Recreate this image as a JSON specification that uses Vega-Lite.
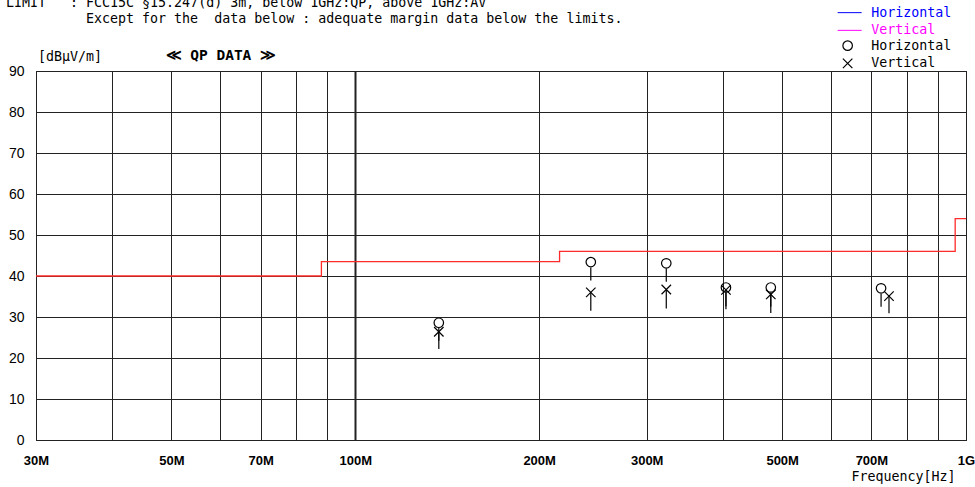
{
  "$schema": "https://vega.github.io/schema/vega-lite/v6.json",
  "autosize": {"type": "none"},
  "width": 930,
  "height": 369,
  "padding": {"left": 36, "top": 71, "right": 9, "bottom": 47},
  "background": "white",
  "title": {
    "text": [
      "LIMIT\u00a0\u00a0\u00a0:\u00a0FCC15C\u00a0§15.247(d)\u00a03m,\u00a0below\u00a01GHz:QP,\u00a0above\u00a01GHz:AV",
      "\u200b\u00a0\u00a0\u00a0\u00a0\u00a0\u00a0\u00a0\u00a0\u00a0\u00a0Except\u00a0for\u00a0the\u00a0\u00a0data\u00a0below\u00a0:\u00a0adequate\u00a0margin\u00a0data\u00a0below\u00a0the\u00a0limits."
    ],
    "subtitle": "\u200b\u00a0\u00a0\u00a0\u00a0[dBμV/m]",
    "anchor": "start",
    "frame": "group",
    "dx": -30,
    "offset": -57,
    "font": "DejaVu Sans Mono",
    "fontSize": 13.3,
    "fontWeight": "normal",
    "lineHeight": 16,
    "color": "black",
    "subtitleFont": "DejaVu Sans Mono",
    "subtitleFontSize": 13.3,
    "subtitleFontWeight": "normal",
    "subtitleColor": "black",
    "subtitlePadding": 24
  },
  "datasets": {
    "limit": [
      {"freq": 30, "limit": 40},
      {"freq": 88, "limit": 43.5},
      {"freq": 216, "limit": 46},
      {"freq": 960, "limit": 54},
      {"freq": 1000, "limit": 54}
    ],
    "pts": [
      {"freq": 137, "level": 28.6, "top": 27.3, "low": 24.2, "pol": "Horizontal"},
      {"freq": 137, "level": 26.4, "top": 26.4, "low": 22.2, "pol": "Vertical"},
      {"freq": 243, "level": 43.4, "top": 42.1, "low": 38.9, "pol": "Horizontal"},
      {"freq": 243, "level": 36.0, "top": 36.0, "low": 31.5, "pol": "Vertical"},
      {"freq": 323, "level": 43.1, "top": 41.8, "low": 38.6, "pol": "Horizontal"},
      {"freq": 323, "level": 36.7, "top": 36.7, "low": 32.1, "pol": "Vertical"},
      {"freq": 404.5, "level": 37.2, "top": 35.9, "low": 32.6, "pol": "Horizontal"},
      {"freq": 404.5, "level": 36.6, "top": 36.6, "low": 31.9, "pol": "Vertical"},
      {"freq": 479, "level": 37.2, "top": 35.9, "low": 32.5, "pol": "Horizontal"},
      {"freq": 479, "level": 35.5, "top": 35.5, "low": 31.0, "pol": "Vertical"},
      {"freq": 726, "level": 37.0, "top": 35.7, "low": 32.5, "pol": "Horizontal"},
      {"freq": 748, "level": 35.1, "top": 35.1, "low": 30.9, "pol": "Vertical"}
    ]
  },
  "layer": [
    {
      "data": {"name": "limit"},
      "mark": {"type": "line", "interpolate": "step-after", "color": "#ff2a2a", "strokeWidth": 1.3},
      "encoding": {
        "x": {
          "field": "freq", "type": "quantitative",
          "scale": {"type": "log", "domain": [30, 1000], "nice": false},
          "axis": {
            "values": [30, 40, 50, 60, 70, 80, 90, 100, 200, 300, 400, 500, 600, 700, 800, 900, 1000],
            "labelExpr": "datum.value == 1000 ? '1G' : (indexof([30,50,70,100,200,300,500,700], datum.value) >= 0 ? datum.value + 'M' : '')",
            "labelOverlap": false,
            "labelFlush": false,
            "labelBound": false,
            "labelFont": "Liberation Sans, Arial, sans-serif",
            "labelFontSize": 13,
            "labelFontWeight": "bold",
            "labelColor": "black",
            "labelBaseline": "top",
            "labelPadding": 14,
            "grid": true,
            "gridWidth": {"condition": {"test": "datum.value == 100", "value": 2}, "value": 1},
            "title": "Frequency[Hz]",
            "titleFont": "DejaVu Sans Mono",
            "titleFontSize": 13.3,
            "titleFontWeight": "normal",
            "titleColor": "black",
            "titleAlign": "right",
            "titleBaseline": "middle",
            "titleAnchor": null,
            "titleX": 919,
            "titleY": 36
          }
        },
        "y": {
          "field": "limit", "type": "quantitative",
          "scale": {"domain": [0, 90], "nice": false},
          "axis": {
            "values": [0, 10, 20, 30, 40, 50, 60, 70, 80, 90],
            "labelFont": "Liberation Sans, Arial, sans-serif",
            "labelFontSize": 14,
            "labelColor": "black",
            "labelPadding": 12,
            "labelFlush": false,
            "labelBound": false,
            "grid": true,
            "title": "≪\u00a0QP\u00a0DATA\u00a0≫",
            "titleFont": "DejaVu Sans Mono",
            "titleFontSize": 14.5,
            "titleFontWeight": "bold",
            "titleColor": "black",
            "titleAngle": 0,
            "titleAlign": "left",
            "titleBaseline": "middle",
            "titleX": 129,
            "titleY": -16
          }
        }
      }
    },
    {
      "data": {"name": "pts"},
      "transform": [{"filter": "false"}],
      "mark": {"type": "line", "strokeWidth": 1},
      "encoding": {
        "x": {"field": "freq", "type": "quantitative"},
        "y": {"field": "level", "type": "quantitative"},
        "color": {
          "field": "pol", "type": "nominal",
          "scale": {"domain": ["Horizontal", "Vertical"], "range": ["#0000ff", "#ff00ff"]},
          "legend": {
            "orient": "none",
            "legendX": 807,
            "legendY": -65,
            "title": null,
            "padding": 0,
            "symbolType": "M-2.4,0L2.4,0",
            "symbolSize": 100,
            "symbolStrokeWidth": 1,
            "labelFont": "DejaVu Sans Mono",
            "labelFontSize": 13.3,
            "labelColor": {"expr": "datum.value === 'Horizontal' ? '#0000ff' : '#ff00ff'"},
            "labelOffset": 15,
            "rowPadding": 3.7
          }
        }
      }
    },
    {
      "data": {"name": "pts"},
      "mark": {"type": "rule", "color": "black", "strokeWidth": 1.2},
      "encoding": {
        "x": {"field": "freq", "type": "quantitative"},
        "y": {"field": "top", "type": "quantitative"},
        "y2": {"field": "low"}
      }
    },
    {
      "data": {"name": "pts"},
      "mark": {"type": "point", "filled": false, "color": "black", "strokeWidth": 1.2, "size": 90, "opacity": 1},
      "encoding": {
        "x": {"field": "freq", "type": "quantitative"},
        "y": {"field": "level", "type": "quantitative"},
        "shape": {
          "field": "pol", "type": "nominal",
          "scale": {"range": ["circle", "M-1,-1L1,1M-1,1L1,-1"]},
          "legend": {
            "orient": "none",
            "legendX": 805,
            "legendY": -32,
            "title": null,
            "padding": 0,
            "symbolSize": 90,
            "symbolStrokeWidth": 1.2,
            "labelFont": "DejaVu Sans Mono",
            "labelFontSize": 13.3,
            "labelColor": "black",
            "labelOffset": 17,
            "rowPadding": 2.7
          }
        }
      }
    }
  ],
  "config": {
    "view": {"stroke": "black", "strokeWidth": 1},
    "axis": {"domain": false, "ticks": false, "tickSize": 0, "gridColor": "#222", "gridOpacity": 1}
  }
}
